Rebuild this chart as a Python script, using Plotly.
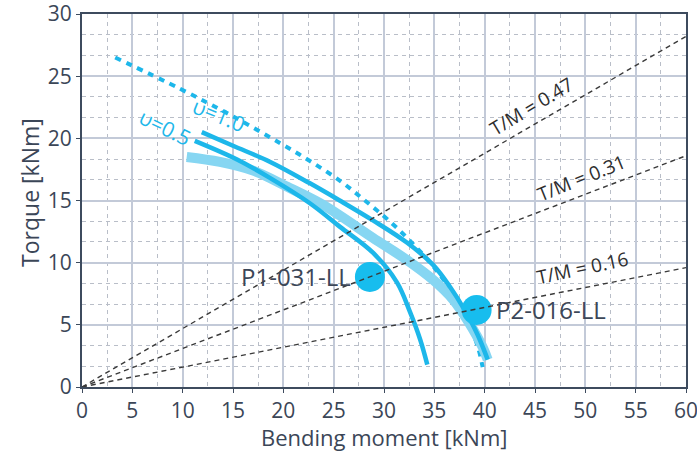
import plotly.graph_objects as go

# Interaction curves (bending moment [kNm], torque [kNm])
dash_m = [3.3, 9.7, 14.7, 19.7, 22.6, 25.6, 28.1, 30.6, 32.9, 35.1, 37.0, 38.5, 39.4, 39.8]
dash_t = [26.5, 24.0, 21.9, 19.6, 18.2, 16.6, 15.0, 13.3, 11.5, 9.5, 7.3, 5.0, 3.0, 1.6]

upper_m = [11.9, 15.0, 18.7, 22.6, 25.6, 28.9, 32.3, 34.9, 36.6, 38.0, 39.3, 40.3]
upper_t = [20.5, 19.4, 18.1, 16.4, 15.0, 13.4, 11.6, 9.8, 8.0, 6.2, 4.2, 2.2]

lower_m = [11.2, 15.4, 18.7, 22.6, 25.6, 28.9, 31.3, 32.6, 33.6, 34.3]
lower_t = [19.8, 18.3, 16.8, 14.8, 12.9, 10.8, 8.4, 6.0, 3.8, 1.8]

band_m = [10.4, 13.7, 17.0, 20.4, 23.6, 25.6, 28.9, 32.3, 34.9, 36.9, 38.5, 39.8, 40.3]
band_t = [18.5, 18.1, 17.4, 16.1, 14.8, 13.8, 12.0, 10.2, 8.6, 7.0, 5.1, 3.2, 2.2]

# Test points
point_names = ["P1-031-LL", "P2-016-LL"]
point_m = [28.6, 39.2]
point_t = [8.85, 6.2]

# Torque / moment ratio lines
ratios = [0.47, 0.31, 0.16]
ratio_labels = ["T/M = 0.47", "T/M = 0.31", "T/M = 0.16"]
ratio_label_m = [44.7, 49.6, 49.7]
ratio_label_t = [22.6, 16.8, 9.6]
ratio_label_angle = [-31, -22, -12]

x_ticks = list(range(0, 61, 5))
y_ticks = list(range(0, 31, 5))

CYAN = "#1db7ea"
LIGHT = "#86d6f2"
TEXT = "#3b4657"
FONT = "Open Sans"

fig = go.Figure()

fig.add_trace(go.Scatter(x=dash_m, y=dash_t, mode="lines", line_shape="spline",
                         line=dict(color=CYAN, width=4, dash="6px,6px"), hoverinfo="skip"))
fig.add_trace(go.Scatter(x=band_m, y=band_t, mode="lines", line_shape="spline",
                         line=dict(color=LIGHT, width=10), hoverinfo="skip"))
fig.add_trace(go.Scatter(x=upper_m, y=upper_t, mode="lines", line_shape="spline",
                         line=dict(color=CYAN, width=4.5), hoverinfo="skip"))
fig.add_trace(go.Scatter(x=lower_m, y=lower_t, mode="lines", line_shape="spline",
                         line=dict(color=CYAN, width=4.5), hoverinfo="skip"))

fig.add_trace(go.Scatter(x=point_m, y=point_t, mode="markers",
                         marker=dict(size=30, color="#17bdee", line=dict(width=0)),
                         hoverinfo="skip"))

for r in ratios:
    fig.add_trace(go.Scatter(x=[0, 60], y=[0, 60 * r], mode="lines",
                             line=dict(color="#3a3a3a", width=1.4, dash="5px,4px"),
                             hoverinfo="skip"))

annotations = []
for name, m, t, side in zip(point_names, point_m, point_t, ["left", "right"]):
    annotations.append(dict(
        x=m, y=t, text=name, showarrow=False,
        xanchor="right" if side == "left" else "left",
        xshift=-17 if side == "left" else 17, yshift=0,
        font=dict(family=FONT, size=24, color=TEXT)))

for txt, m, t, a in zip(ratio_labels, ratio_label_m, ratio_label_t, ratio_label_angle):
    annotations.append(dict(x=m, y=t, text=txt, showarrow=False, textangle=a,
                            font=dict(family=FONT, size=19, color="#2e2e2e")))

annotations.append(dict(x=13.6, y=21.9, text="υ=1.0", showarrow=False, textangle=22,
                        font=dict(family=FONT, size=21, color=CYAN)))
annotations.append(dict(x=8.2, y=20.9, text="υ=0.5", showarrow=False, textangle=26,
                        font=dict(family=FONT, size=21, color=CYAN)))

# Axis titles
annotations.append(dict(xref="paper", yref="paper", x=0.5, y=-0.134,
                        text="Bending moment [kNm]", showarrow=False,
                        xanchor="center", yanchor="middle",
                        font=dict(family=FONT, size=22, color=TEXT)))
annotations.append(dict(xref="paper", yref="paper", x=-0.0861, y=0.523,
                        text="Torque [kNm]", showarrow=False, textangle=-90,
                        xanchor="center", yanchor="middle",
                        font=dict(family=FONT, size=23, color=TEXT)))

fig.update_layout(
    width=697, height=454,
    margin=dict(l=82, r=11, t=14, b=67),
    paper_bgcolor="white", plot_bgcolor="white",
    showlegend=False,
    annotations=annotations,
    font=dict(family=FONT, color=TEXT, size=21),
)

fig.update_xaxes(
    range=[0, 60], tickvals=x_ticks, ticks="outside", ticklen=4, tickcolor="#3d4b5e",
    showgrid=True, gridcolor="#c3cad8", gridwidth=1.5,
    minor=dict(dtick=2.5, showgrid=True, gridcolor="#b9bec8", griddash="4px,4px", gridwidth=1),
    showline=True, linecolor="#3d4b5e", linewidth=2, mirror=True, zeroline=False,
    automargin=False, ticklabeloverflow="allow",
    tickfont=dict(size=21, color=TEXT),
)
fig.update_yaxes(
    range=[0, 30], tickvals=y_ticks, ticks="outside", ticklen=4, tickcolor="#3d4b5e",
    showgrid=True, gridcolor="#c3cad8", gridwidth=1.5,
    minor=dict(dtick=5 / 3, showgrid=True, gridcolor="#b9bec8", griddash="4px,4px", gridwidth=1),
    showline=True, linecolor="#3d4b5e", linewidth=2, mirror=True, zeroline=False,
    automargin=False, ticklabeloverflow="allow",
    tickfont=dict(size=21, color=TEXT),
)

fig.write_html("out.html")
